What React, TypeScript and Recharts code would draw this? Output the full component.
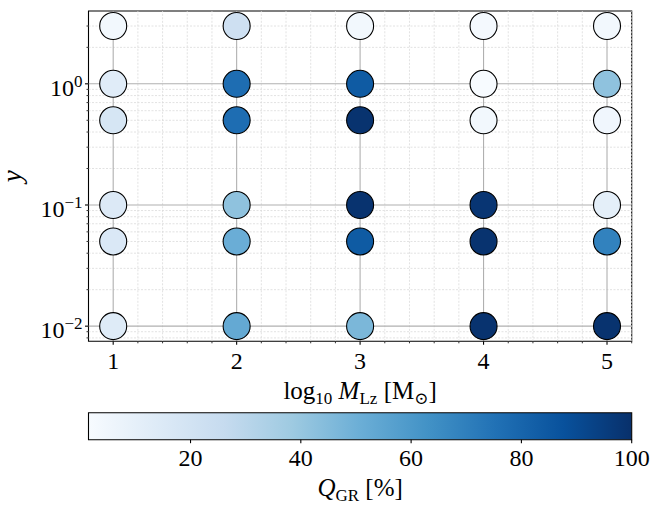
import {
    Area,
    ComposedChart,
    ReferenceArea,
    ReferenceLine,
    Scatter,
    ScatterChart,
    XAxis,
    YAxis,
} from 'recharts'

// log10 of the lens mass, one column of points per value
const masses = [1, 2, 3, 4, 5]
// y values of the rows, top to bottom
const yValues = [3, 1, 0.5, 0.1, 0.05, 0.01]
// Q_GR [%] for each mass column, in the order of yValues
const qMass1 = [4, 13, 18, 15, 16, 14]
const qMass2 = [22, 77, 77, 42, 51, 53]
const qMass3 = [4, 84, 99, 99, 84, 47]
const qMass4 = [3, 1.5, 4, 98, 99, 99]
const qMass5 = [4, 42, 5, 11, 69, 99]
const qColumns = [qMass1, qMass2, qMass3, qMass4, qMass5]

const xMajorTicks = [1, 2, 3, 4, 5]
const xMinorTicks = [1.2, 1.4, 1.6, 1.8, 2.2, 2.4, 2.6, 2.8, 3.2, 3.4, 3.6, 3.8, 4.2, 4.4, 4.6, 4.8, 5.2]
const yMajorTicks = [0.01, 0.1, 1]
const yMinorTicks = [0.008, 0.009, 0.02, 0.03, 0.04, 0.05, 0.06, 0.07, 0.08, 0.09,
    0.2, 0.3, 0.4, 0.5, 0.6, 0.7, 0.8, 0.9, 2, 3]
const colorbarTicks = [20, 40, 60, 80, 100]

const Q_MIN = 1.5
const Q_MAX = 100
const X_DOMAIN: [number, number] = [0.8, 5.2]
const Y_DOMAIN: [number, number] = [0.0075, 3.99]

// matplotlib "Blues"
const blues = ['#f7fbff', '#deebf7', '#c6dbef', '#9ecae1', '#6baed6', '#4292c6', '#2171b5', '#08519c', '#08306b']

const FONT = '"Liberation Serif", "DejaVu Serif", serif'
const MAJOR_GRID = '#b0b0b0'
const MINOR_GRID = '#dadada'

function hexToRgb(hex: string) {
    const n = parseInt(hex.slice(1), 16)
    return [(n >> 16) & 255, (n >> 8) & 255, n & 255]
}

function bluesColor(q: number): string {
    const t = Math.min(1, Math.max(0, (q - Q_MIN) / (Q_MAX - Q_MIN)))
    const pos = t * (blues.length - 1)
    const i = Math.min(blues.length - 2, Math.floor(pos))
    const f = pos - i
    const a = hexToRgb(blues[i])
    const b = hexToRgb(blues[i + 1])
    const c = a.map((v, k) => Math.round(v + (b[k] - v) * f))
    return `rgb(${c[0]},${c[1]},${c[2]})`
}

const points = masses.flatMap((m, i) =>
    yValues.map((y, j) => ({ x: m, y, q: qColumns[i][j] })),
)

const xTicks = [...xMajorTicks, ...xMinorTicks].sort((a, b) => a - b)
const yTicks = [...yMajorTicks, ...yMinorTicks].sort((a, b) => a - b)

// the colorbar strip: full height from Q_MIN to Q_MAX
const colorbarData = [{ q: Q_MIN, v: 1 }, { q: Q_MAX, v: 1 }]

function Dot(props: any) {
    const { cx, cy, payload } = props
    if (cx == null || cy == null) { return null }
    return (
        <circle cx={cx} cy={cy} r={13.5} fill={bluesColor(payload.q)} stroke="#000" strokeWidth={1.1} />
    )
}

function XTick({ x, y, payload }: any) {
    const major = xMajorTicks.includes(payload.value)
    return (
        <g>
            <line x1={x} x2={x} y1={y} y2={y + (major ? 3.5 : 2)} stroke="#000" strokeWidth={major ? 1.1 : 0.8} />
            {major && (
                <text x={x} y={y + 27.4} textAnchor="middle" fontFamily={FONT} fontSize={24} fill="#000">
                    {payload.value}
                </text>
            )}
        </g>
    )
}

function YTick({ x, y, payload }: any) {
    const v = payload.value
    const major = yMajorTicks.includes(v)
    const exp = Math.round(Math.log10(v))
    return (
        <g>
            <line x1={x} x2={x - (major ? 3.5 : 2)} y1={y} y2={y} stroke="#000" strokeWidth={major ? 1.1 : 0.8} />
            {major && (
                <text x={x - 6} y={y + 12} textAnchor="end" fontFamily={FONT} fontSize={24} fill="#000">
                    10
                    <tspan dy={-9} fontSize={17}>{exp < 0 ? `\u2212${-exp}` : exp}</tspan>
                </text>
            )}
        </g>
    )
}

function CbTick({ x, y, payload }: any) {
    return (
        <g>
            <line x1={x} x2={x} y1={y} y2={y + 3.5} stroke="#000" strokeWidth={1.1} />
            <text x={x} y={y + 26.3} textAnchor="middle" fontFamily={FONT} fontSize={24} fill="#000">
                {payload.value}
            </text>
        </g>
    )
}

function XLabel({ viewBox }: any) {
    const cx = viewBox.x + viewBox.width / 2
    return (
        <text x={cx} y={viewBox.y + 57.2} textAnchor="middle" fontFamily={FONT} fontSize={25} fill="#000">
            log<tspan dy={5} fontSize={17}>10</tspan>
            <tspan dy={-5} fontStyle="italic"> M</tspan>
            <tspan dy={5} fontSize={17}>Lz</tspan>
            <tspan dy={-5}> [M</tspan>
            <tspan dy={5} fontSize={17}>⊙</tspan>
            <tspan dy={-5}>]</tspan>
        </text>
    )
}

function YLabel({ viewBox }: any) {
    const cy = viewBox.y + viewBox.height / 2
    return (
        <text
            x={21}
            y={cy}
            transform={`rotate(-90 21 ${cy})`}
            textAnchor="middle"
            fontFamily={FONT}
            fontStyle="italic"
            fontSize={27}
            fill="#000"
        >
            y
        </text>
    )
}

function CbLabel({ viewBox }: any) {
    const cx = viewBox.x + viewBox.width / 2
    return (
        <text x={cx} y={viewBox.y + 56.3} textAnchor="middle" fontFamily={FONT} fontSize={25} fill="#000">
            <tspan fontStyle="italic">Q</tspan>
            <tspan dy={5} fontSize={17}>GR</tspan>
            <tspan dy={-5}> [%]</tspan>
        </text>
    )
}

export default function App() {
    return (
        <div style={{ position: 'absolute', left: 0, top: 0, width: 652, height: 506, background: '#fff' }}>
            <div style={{ position: 'absolute', left: 0, top: 0 }}>
                <ScatterChart width={652} height={420} margin={{ top: 11, right: 20.3, left: 0, bottom: 0 }}>
                    <XAxis
                        type="number"
                        dataKey="x"
                        domain={X_DOMAIN}
                        ticks={xTicks}
                        interval={0}
                        allowDataOverflow
                        axisLine={false}
                        tickLine={false}
                        tickSize={0}
                        tickMargin={0}
                        tick={<XTick />}
                        height={78.7}
                        label={<XLabel />}
                    />
                    <YAxis
                        type="number"
                        dataKey="y"
                        scale="log"
                        domain={Y_DOMAIN}
                        ticks={yTicks}
                        interval={0}
                        allowDataOverflow
                        axisLine={false}
                        tickLine={false}
                        tickSize={0}
                        tickMargin={0}
                        tick={<YTick />}
                        width={88.5}
                        label={<YLabel />}
                    />
                    {xMinorTicks.map((v) => (
                        <ReferenceLine key={`xm${v}`} x={v} stroke={MINOR_GRID} strokeWidth={0.8} strokeDasharray="2 1.5" />
                    ))}
                    {yMinorTicks.map((v) => (
                        <ReferenceLine key={`ym${v}`} y={v} stroke={MINOR_GRID} strokeWidth={0.8} strokeDasharray="2 1.5" />
                    ))}
                    {xMajorTicks.map((v) => (
                        <ReferenceLine key={`xM${v}`} x={v} stroke={MAJOR_GRID} strokeWidth={1.1} />
                    ))}
                    {yMajorTicks.map((v) => (
                        <ReferenceLine key={`yM${v}`} y={v} stroke={MAJOR_GRID} strokeWidth={1.1} />
                    ))}
                    <Scatter data={points} shape={<Dot />} isAnimationActive={false} />
                    <ReferenceArea
                        x1={X_DOMAIN[0]}
                        x2={X_DOMAIN[1]}
                        y1={Y_DOMAIN[0]}
                        y2={Y_DOMAIN[1]}
                        fill="none"
                        stroke="#000"
                        strokeWidth={1.1}
                        fillOpacity={0}
                    />
                </ScatterChart>
            </div>
            <div style={{ position: 'absolute', left: 0, top: 400 }}>
                <ComposedChart
                    width={652}
                    height={106}
                    data={colorbarData}
                    margin={{ top: 12.7, right: 20.3, left: 88.5, bottom: 0 }}
                >
                    <defs>
                        <linearGradient id="bluesGrad" x1="0" y1="0" x2="1" y2="0">
                            {blues.map((c, i) => (
                                <stop key={c} offset={`${(i / (blues.length - 1)) * 100}%`} stopColor={c} />
                            ))}
                        </linearGradient>
                    </defs>
                    <XAxis
                        type="number"
                        dataKey="q"
                        domain={[Q_MIN, Q_MAX]}
                        ticks={colorbarTicks}
                        interval={0}
                        allowDataOverflow
                        axisLine={false}
                        tickLine={false}
                        tickSize={0}
                        tickMargin={0}
                        tick={<CbTick />}
                        height={66.3}
                        label={<CbLabel />}
                    />
                    <YAxis hide type="number" domain={[0, 1]} allowDataOverflow />
                    <Area
                        type="linear"
                        dataKey="v"
                        baseValue={0}
                        stroke="none"
                        fill="url(#bluesGrad)"
                        fillOpacity={1}
                        isAnimationActive={false}
                        activeDot={false}
                        dot={false}
                    />
                    <ReferenceArea
                        x1={Q_MIN}
                        x2={Q_MAX}
                        fill="none"
                        fillOpacity={0}
                        stroke="#000"
                        strokeWidth={1.1}
                    />
                </ComposedChart>
            </div>
        </div>
    )
}
